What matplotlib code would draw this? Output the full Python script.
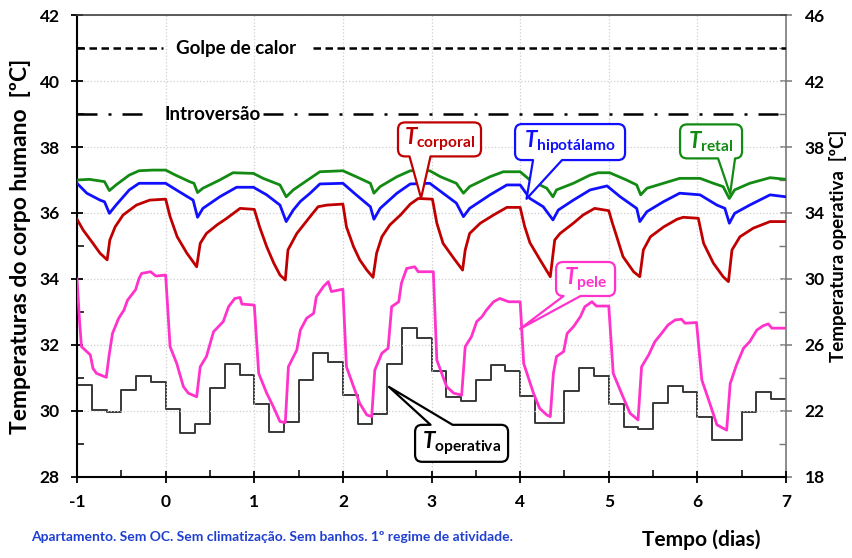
import numpy as np
import matplotlib
matplotlib.use("Agg")
import matplotlib.pyplot as plt
from matplotlib.ticker import MultipleLocator, FixedLocator
from matplotlib.path import Path
from matplotlib.patches import PathPatch
from matplotlib.transforms import IdentityTransform

plt.rcParams['font.family'] = ['Lato', 'DejaVu Sans']
plt.rcParams['axes.unicode_minus'] = False
plt.rcParams['mathtext.fontset'] = 'custom'
plt.rcParams['mathtext.rm'] = 'Lato:bold'
plt.rcParams['mathtext.it'] = 'Lato:italic:bold'
plt.rcParams['mathtext.bf'] = 'Lato:bold'

# ---- body temperatures (left axis, ºC) ----
t_corporal = [-1.00, -0.93, -0.82, -0.74, -0.66, -0.63, -0.57, -0.48, -0.33, -0.18, 0.00,
              0.05, 0.13, 0.24, 0.35, 0.39, 0.46, 0.58, 0.69, 0.84, 1.00,
              1.06, 1.14, 1.22, 1.29, 1.35, 1.38, 1.48, 1.63, 1.72, 1.82, 2.00,
              2.04, 2.12, 2.19, 2.27, 2.34, 2.38, 2.44, 2.53, 2.65, 2.76, 2.85, 3.01,
              3.06, 3.13, 3.25, 3.35, 3.38, 3.43, 3.55, 3.70, 3.85, 4.00,
              4.05, 4.11, 4.22, 4.34, 4.39, 4.45, 4.60, 4.71, 4.84, 5.00,
              5.04, 5.09, 5.16, 5.28, 5.35, 5.39, 5.47, 5.62, 5.77, 5.84, 6.01,
              6.07, 6.18, 6.29, 6.35, 6.39, 6.48, 6.63, 6.82, 7.00]
v_corporal = [35.81, 35.48, 35.08, 34.78, 34.58, 35.18, 35.58, 35.94, 36.24, 36.39, 36.42,
              35.89, 35.28, 34.78, 34.37, 35.08, 35.38, 35.64, 35.84, 36.14, 36.11,
              35.58, 34.98, 34.48, 34.12, 33.97, 34.88, 35.38, 35.89, 36.19, 36.24, 36.27,
              35.58, 34.98, 34.58, 34.27, 34.05, 34.78, 35.28, 35.64, 35.94, 36.27, 36.44, 36.42,
              35.69, 35.08, 34.63, 34.27, 34.88, 35.38, 35.69, 35.94, 36.17, 36.17,
              35.60, 35.10, 34.60, 34.07, 35.18, 35.38, 35.69, 35.94, 36.14, 36.07,
              35.70, 35.28, 34.68, 34.22, 34.07, 34.88, 35.28, 35.58, 35.81, 35.87, 35.84,
              35.08, 34.48, 34.07, 33.92, 34.88, 35.28, 35.54, 35.74, 35.74]

t_retal = [-1.00, -0.86, -0.69, -0.635, -0.56, -0.41, -0.30, -0.15, 0.00,
           0.11, 0.27, 0.32, 0.36, 0.42, 0.61, 0.76, 0.99,
           1.10, 1.29, 1.36, 1.44, 1.63, 1.74, 2.00,
           2.15, 2.31, 2.35, 2.42, 2.61, 2.76, 2.98,
           3.10, 3.28, 3.36, 3.43, 3.66, 3.81, 4.00,
           4.11, 4.30, 4.37, 4.41, 4.60, 4.79, 4.88, 5.01,
           5.20, 5.315, 5.36, 5.43, 5.615, 5.80, 6.03,
           6.18, 6.29, 6.36, 6.42, 6.59, 6.82, 7.00]
v_retal = [37.00, 37.02, 36.95, 36.68, 36.85, 37.15, 37.28, 37.30, 37.30,
           37.15, 36.95, 36.90, 36.62, 36.75, 37.00, 37.22, 37.20,
           37.05, 36.85, 36.49, 36.70, 37.05, 37.25, 37.28,
           37.10, 36.90, 36.60, 36.80, 37.10, 37.28, 37.28,
           37.10, 36.90, 36.60, 36.80, 37.10, 37.25, 37.25,
           37.00, 36.75, 36.49, 36.70, 36.90, 37.15, 37.22, 37.22,
           37.00, 36.85, 36.55, 36.75, 36.90, 37.05, 37.05,
           36.90, 36.80, 36.44, 36.70, 36.90, 37.07, 37.02]

t_hipot = [-1.00, -0.89, -0.74, -0.69, -0.635, -0.56, -0.41, -0.30, 0.00,
           0.15, 0.31, 0.36, 0.42, 0.61, 0.80, 0.99,
           1.14, 1.29, 1.36, 1.44, 1.52, 1.63, 1.74, 2.00,
           2.15, 2.31, 2.35, 2.42, 2.61, 2.76, 2.98,
           3.13, 3.28, 3.36, 3.43, 3.66, 3.85, 4.00,
           4.11, 4.26, 4.37, 4.43, 4.60, 4.79, 4.98,
           5.13, 5.315, 5.35, 5.43, 5.615, 5.80, 6.03,
           6.22, 6.31, 6.36, 6.42, 6.59, 6.82, 7.00]
v_hipot = [36.90, 36.60, 36.39, 36.34, 35.99, 36.24, 36.70, 36.90, 36.90,
           36.65, 36.39, 35.87, 36.14, 36.49, 36.78, 36.78,
           36.55, 36.24, 35.74, 36.09, 36.35, 36.60, 36.88, 36.90,
           36.55, 36.19, 35.81, 36.14, 36.60, 36.88, 36.90,
           36.60, 36.30, 35.89, 36.14, 36.55, 36.85, 36.85,
           36.44, 36.19, 35.79, 36.09, 36.39, 36.70, 36.82,
           36.49, 36.14, 35.74, 36.04, 36.34, 36.60, 36.55,
           36.24, 36.14, 35.69, 35.99, 36.24, 36.55, 36.49]

t_pele = [-1.00, -0.97, -0.95, -0.85, -0.82, -0.78, -0.67, -0.64, -0.60, -0.53, -0.47,
          -0.43, -0.34, -0.30, -0.27, -0.17, -0.11, 0.00,
          0.05, 0.125, 0.20, 0.256, 0.35, 0.39, 0.46, 0.54, 0.65, 0.71, 0.78, 0.84, 0.86, 1.00,
          1.05, 1.14, 1.215, 1.29, 1.35, 1.385, 1.48, 1.52, 1.59, 1.67, 1.70, 1.78, 1.835, 1.87, 2.00,
          2.04, 2.12, 2.19, 2.27, 2.325, 2.36, 2.44, 2.51, 2.55, 2.63, 2.66, 2.72, 2.81, 2.85, 3.02,
          3.06, 3.17, 3.25, 3.34, 3.38, 3.45, 3.51, 3.57, 3.62, 3.70, 3.77, 3.87, 4.00,
          4.04, 4.15, 4.22, 4.30, 4.34, 4.375, 4.41, 4.49, 4.53, 4.60, 4.68, 4.73, 4.81, 4.86, 5.00,
          5.05, 5.16, 5.24, 5.33, 5.37, 5.45, 5.52, 5.58, 5.67, 5.75, 5.82, 5.86, 5.99,
          6.05, 6.14, 6.22, 6.33, 6.37, 6.44, 6.52, 6.59, 6.67, 6.74, 6.80, 6.84, 7.00]
v_pele = [34.00, 32.66, 31.95, 31.70, 31.29, 31.14, 31.02, 31.65, 32.35, 32.81, 33.06,
          33.36, 33.67, 34.02, 34.17, 34.22, 34.09, 34.12,
          31.95, 31.44, 30.74, 30.54, 30.43, 31.34, 31.65, 32.40, 32.71, 33.16, 33.41, 33.44, 33.24, 33.21,
          31.14, 30.54, 30.13, 29.68, 29.65, 31.34, 31.85, 32.45, 32.81, 32.96, 33.46, 33.77, 33.92, 33.62, 33.69,
          31.34, 30.74, 30.23, 29.88, 29.83, 31.24, 31.75, 31.90, 33.16, 33.31, 33.87, 34.32, 34.37, 34.22, 34.22,
          31.54, 30.74, 30.54, 30.48, 31.95, 32.25, 32.71, 32.86, 33.06, 33.31, 33.41, 33.31, 33.31,
          31.44, 30.54, 30.08, 29.88, 29.83, 31.14, 31.65, 31.80, 32.35, 32.55, 32.86, 33.16, 33.31, 33.18, 33.18,
          31.14, 30.43, 29.93, 29.73, 31.34, 31.70, 32.10, 32.30, 32.61, 32.76, 32.78, 32.66, 32.68,
          30.94, 30.23, 29.58, 29.42, 30.83, 31.39, 31.90, 32.10, 32.45, 32.58, 32.64, 32.51, 32.51]

# ---- operative temperature (right axis, ºC), 4-hour steps from day -1 ----
v_operativa = [23.60, 22.05, 21.95, 23.25, 24.15, 23.75,
               22.15, 20.65, 21.20, 23.40, 24.85, 24.20,
               22.40, 20.70, 21.35, 23.90, 25.50, 24.95,
               22.95, 21.20, 21.80, 24.85, 27.00, 26.45,
               24.45, 22.85, 22.60, 23.90, 24.80, 24.40,
               22.90, 21.25, 21.25, 23.20, 24.60, 24.15,
               22.45, 21.00, 20.90, 22.50, 23.50, 23.15,
               21.65, 20.25, 20.25, 21.95, 23.15, 22.75]
t_operativa = np.linspace(-1, 7, len(v_operativa) + 1)

# ---- reference thresholds ----
golpe_calor = 41.0
introversao = 39.0

x_ticks = [-1, 0, 1, 2, 3, 4, 5, 6, 7]
y_ticks_left = [28, 30, 32, 34, 36, 38, 40, 42]
y_ticks_right = [18, 22, 26, 30, 34, 38, 42, 46]

fig = plt.figure(figsize=(8.53, 5.58), dpi=100)
ax = fig.add_axes([0.0903, 0.1452, 0.8312, 0.8279])
ax2 = ax.twinx()
ax.set_zorder(ax2.get_zorder() + 1)
ax.patch.set_visible(False)

ax.set_xlim(-1, 7)
ax.set_ylim(28, 42)
ax2.set_ylim(18, 46)

ax.plot(t_retal, v_retal, color='#138a13', lw=2.0, zorder=3)
ax.plot(t_hipot, v_hipot, color='#1010ff', lw=2.0, zorder=3)
ax.plot(t_corporal, v_corporal, color='#c00000', lw=2.0, zorder=3)
ax.plot(t_pele, v_pele, color='#ff33cc', lw=2.0, zorder=4)
ax2.plot(t_operativa, v_operativa + [v_operativa[-1]], drawstyle='steps-post',
         color='#383838', lw=1.4)

# threshold lines, interrupted where their names sit
ax.hlines(golpe_calor, -1, -0.03, color='black', lw=1.8, linestyles=[(0, (3.0, 1.8))], zorder=2)
ax.hlines(golpe_calor, 1.66, 7, color='black', lw=1.8, linestyles=[(0, (3.0, 1.8))], zorder=2)
ax.hlines(introversao, -1, -0.18, color='black', lw=1.8, linestyles=[(0, (8, 4.4, 1.2, 4.4))], zorder=2)
ax.hlines(introversao, 1.10, 7, color='black', lw=1.8, linestyles=[(0, (8, 4.4, 1.2, 4.4))], zorder=2)
ax.text(0.79, golpe_calor, 'Golpe de calor', ha='center', va='center', fontsize=13.5,
        fontweight='bold', zorder=5)
ax.text(0.535, introversao, 'Introversão', ha='center', va='center', fontsize=13.5,
        fontweight='bold', zorder=5)

# grid and ticks
ax.set_xticks(x_ticks)
ax.xaxis.set_minor_locator(MultipleLocator(0.5))
ax.set_yticks(y_ticks_left)
ax.yaxis.set_minor_locator(MultipleLocator(1))
ax2.yaxis.set_major_locator(FixedLocator(y_ticks_right))
ax2.yaxis.set_minor_locator(FixedLocator([20, 24, 28, 32, 36, 40, 44]))
ax.grid(which='major', color='#cfcfcf', ls=':', lw=0.9)
ax.tick_params(which='major', direction='inout', length=9, width=1.3, labelsize=12.5)
ax.tick_params(axis='y', which='major', pad=8)
ax.tick_params(axis='x', which='major', pad=8)
ax.tick_params(which='minor', direction='in', length=5, width=1.1)
ax2.tick_params(which='major', direction='inout', length=9, width=1.1, labelsize=12.5,
                color='#777777', pad=9)
ax2.tick_params(which='minor', direction='in', length=5, width=1.0, color='#777777')
for lab in ax.get_xticklabels() + ax.get_yticklabels() + ax2.get_yticklabels():
    lab.set_fontweight('bold')

for s in ['left', 'bottom']:
    ax.spines[s].set_linewidth(1.5)
ax.spines['top'].set_linewidth(1.2)
ax.spines['top'].set_color('#404040')
ax.spines['right'].set_visible(False)
for s in ['left', 'bottom', 'top']:
    ax2.spines[s].set_visible(False)
ax2.spines['right'].set_color('#777777')
ax2.spines['right'].set_linewidth(1.2)

ax.set_ylabel('Temperaturas do corpo humano  [ºC]', fontsize=16.5, fontweight='bold', labelpad=6)
ax2.set_ylabel('Temperatura operativa  [ºC]', fontsize=13.5, fontweight='bold', labelpad=3)

fig.text(0.822, 0.032, 'Tempo (dias)', ha='center', va='center', fontsize=15, fontweight='bold')
fig.text(0.037, 0.0376, 'Apartamento. Sem OC. Sem climatização. Sem banhos. 1º regime de atividade.',
         ha='left', va='center', fontsize=10, fontweight='bold', color='#1f3fd0')


# callout boxes: rounded rectangle with a pointer, built in pixel space
def callout(label, color, center, size, tip, base, side):
    cx, cy = ax.transData.transform(center)
    tx, ty = ax.transData.transform(tip)
    w, h = size
    r = 7
    L, R, B, T = cx - w / 2, cx + w / 2, cy - h / 2, cy + h / 2
    b1, b2 = cx + base[0], cx + base[1]
    verts, codes = [], []

    def move(p):
        verts.append(p); codes.append(Path.MOVETO)

    def line(p):
        verts.append(p); codes.append(Path.LINETO)

    def curve(c, p):
        verts.extend([c, p]); codes.extend([Path.CURVE3, Path.CURVE3])

    move((L + r, B))
    if side == 'bottom':
        line((b1, B)); line((tx, ty)); line((b2, B))
    line((R - r, B)); curve((R, B), (R, B + r))
    line((R, T - r)); curve((R, T), (R - r, T))
    if side == 'top':
        line((b2, T)); line((tx, ty)); line((b1, T))
    line((L + r, T)); curve((L, T), (L, T - r))
    line((L, B + r)); curve((L, B), (L + r, B))
    verts.append((L + r, B)); codes.append(Path.CLOSEPOLY)
    patch = PathPatch(Path(verts, codes), fc='white', ec=color, lw=1.6,
                      joinstyle='round', transform=IdentityTransform(), zorder=6)
    patch.set_clip_on(False)
    ax.add_artist(patch)
    ax.text(center[0], center[1], label, ha='center', va='center', fontsize=16,
            color=color, zorder=7)


callout(r'$T_{\mathrm{corporal}}$', '#c00000', (3.090, 38.23), (83, 34), (2.882, 36.45), (-30, -9), 'bottom')
callout(r'$T_{\mathrm{hipotálamo}}$', '#1010ff', (4.563, 38.15), (110, 36), (4.072, 36.43), (-37, -8), 'bottom')
callout(r'$T_{\mathrm{retal}}$', '#138a13', (6.154, 38.17), (62, 34), (6.369, 36.58), (7, 24), 'bottom')
callout(r'$T_{\mathrm{pele}}$', '#ff33cc', (4.738, 34.00), (59, 34), (3.999, 32.49), (-22, -5), 'bottom')
callout(r'$T_{\mathrm{operativa}}$', '#000000', (3.339, 29.02), (93, 37), (2.520, 30.73), (-31, -9), 'top')

fig.savefig('out.png', dpi=100)
